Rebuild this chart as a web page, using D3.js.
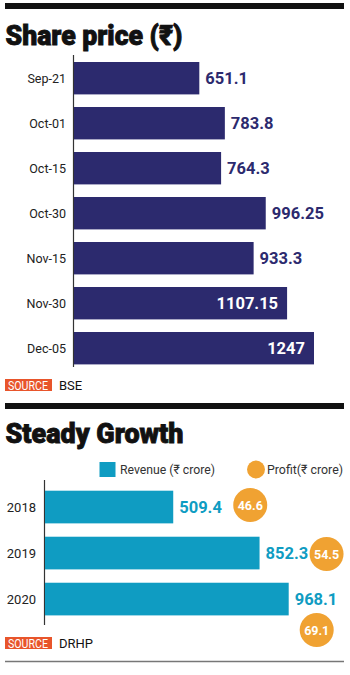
<!DOCTYPE html>
<html><head><meta charset="utf-8">
<script src="https://cdn.jsdelivr.net/npm/d3@7"></script>
<style>
html,body{margin:0;padding:0;background:#fff;}
svg{display:block;}
</style></head>
<body>
<svg id="c" width="350" height="675"></svg>
<script>
// ---- data ----
const priceDates = ["Sep-21","Oct-01","Oct-15","Oct-30","Nov-15","Nov-30","Dec-05"];
const priceValues = [651.1, 783.8, 764.3, 996.25, 933.3, 1107.15, 1247];
const priceLabels = ["651.1","783.8","764.3","996.25","933.3","1107.15","1247"];
const years = ["2018","2019","2020"];
const revenue = [509.4, 852.3, 968.1];
const revenueLabels = ["509.4","852.3","968.1"];
const profit = [46.6, 54.5, 69.1];
const profitLabels = ["46.6","54.5","69.1"];

// ---- layout (not data) ----
const profitOffsets = [{dx:77, dy:-2},{dx:67, dy:1},{dx:28, dy:31}];

const NAVY = "#2c2a6e", BLUE = "#0f9cc2", ORANGE = "#f0a232", SRC = "#e8552b";
const FONT = "Roboto, 'Open Sans', 'DejaVu Sans', sans-serif";
const svg = d3.select("#c");

function blackBar(y){ svg.append("rect").attr("x",5).attr("y",y).attr("width",339).attr("height",6).attr("fill","#111"); }
function title(txt, y, len){
  svg.append("text").attr("x",5.5).attr("y",y).text(txt)
    .attr("font-family",FONT).attr("font-weight",900).attr("font-size",28)
    .attr("fill","#111").attr("stroke","#111").attr("stroke-width",0.9)
    .attr("textLength",len).attr("lengthAdjust","spacingAndGlyphs");
}
function source(y, label){
  svg.append("rect").attr("x",5).attr("y",y).attr("width",47).attr("height",12).attr("fill",SRC);
  svg.append("text").attr("x",8).attr("y",y+10.5).text("SOURCE").attr("fill","#fff")
    .attr("font-family",FONT).attr("font-size",12.5).attr("textLength",40).attr("lengthAdjust","spacingAndGlyphs");
  svg.append("text").attr("x",59).attr("y",y+10.5).text(label).attr("fill","#111")
    .attr("font-family",FONT).attr("font-size",13);
}

// ===== Chart 1: Share price =====
blackBar(3);
title("Share price (\u20B9)", 45, 177);

const y1 = d3.scaleBand().domain(priceDates).range([62, 364.4]).paddingInner(0.28).paddingOuter(0);
const x1 = d3.scaleLinear().domain([0, 1247]).range([74, 314]);

svg.append("line").attr("x1",73.5).attr("x2",73.5).attr("y1",55).attr("y2",367)
  .attr("stroke","#333").attr("stroke-width",1.2);

const g1 = svg.append("g");
g1.selectAll("rect").data(priceValues).join("rect")
  .attr("x", x1(0)).attr("y", (d,i)=>y1(priceDates[i]))
  .attr("width", d=>x1(d)-x1(0)).attr("height", y1.bandwidth()).attr("fill", NAVY);

g1.selectAll("text.val").data(priceValues).join("text").attr("class","val")
  .attr("x", d=> d>1100 ? x1(d)-9 : x1(d)+6)
  .attr("y", (d,i)=>y1(priceDates[i])+y1.bandwidth()/2+6)
  .attr("text-anchor", d=> d>1100 ? "end" : "start")
  .attr("fill", d=> d>1100 ? "#fff" : NAVY)
  .attr("font-family",FONT).attr("font-weight",700).attr("font-size",16.5)
  .text((d,i)=>priceLabels[i]);

g1.selectAll("text.cat").data(priceDates).join("text").attr("class","cat")
  .attr("x", 66).attr("y", d=>y1(d)+y1.bandwidth()/2+5)
  .attr("text-anchor","end").attr("fill","#222")
  .attr("font-family",FONT).attr("font-size",12.5).text(d=>d);

source(379, "BSE");

// ===== Chart 2: Steady Growth =====
blackBar(403);
title("Steady Growth", 443, 178);

// legend
svg.append("rect").attr("x",99.5).attr("y",462).attr("width",16).attr("height",15).attr("fill",BLUE);
svg.append("text").attr("x",120).attr("y",474).text("Revenue (\u20B9 crore)").attr("fill","#333")
  .attr("font-family",FONT).attr("font-size",13).attr("textLength",95).attr("lengthAdjust","spacingAndGlyphs");
svg.append("circle").attr("cx",256).attr("cy",469.5).attr("r",9).attr("fill",ORANGE);
svg.append("text").attr("x",267).attr("y",474).text("Profit(\u20B9 crore)").attr("fill","#333")
  .attr("font-family",FONT).attr("font-size",13).attr("textLength",76).attr("lengthAdjust","spacingAndGlyphs");

const y2 = d3.scaleBand().domain(years).range([490.7, 615.4]).paddingInner(0.29).paddingOuter(0);
const x2 = d3.scaleLinear().domain([0, 968.1]).range([45, 288.7]);

svg.append("line").attr("x1",44.5).attr("x2",44.5).attr("y1",480).attr("y2",625)
  .attr("stroke","#333").attr("stroke-width",1.2);

const g2 = svg.append("g");
g2.selectAll("rect").data(revenue).join("rect")
  .attr("x", x2(0)).attr("y", (d,i)=>y2(years[i]))
  .attr("width", d=>x2(d)-x2(0)).attr("height", y2.bandwidth()).attr("fill", BLUE);

g2.selectAll("text.val").data(revenue).join("text").attr("class","val")
  .attr("x", d=>x2(d)+6).attr("y",(d,i)=>y2(years[i])+y2.bandwidth()/2+6)
  .attr("fill",BLUE).attr("font-family",FONT).attr("font-weight",700).attr("font-size",16.5)
  .text((d,i)=>revenueLabels[i]);

g2.selectAll("text.cat").data(years).join("text").attr("class","cat")
  .attr("x",36).attr("y",d=>y2(d)+y2.bandwidth()/2+5)
  .attr("text-anchor","end").attr("fill","#222")
  .attr("font-family",FONT).attr("font-size",13).text(d=>d);

const pg = g2.selectAll("g.profit").data(profit).join("g").attr("class","profit")
  .attr("transform",(d,i)=>`translate(${x2(revenue[i])+profitOffsets[i].dx},${y2(years[i])+y2.bandwidth()/2+profitOffsets[i].dy})`);
pg.append("circle").attr("r",17).attr("fill",ORANGE);
pg.append("text").attr("text-anchor","middle").attr("y",4.5).attr("fill","#fff")
  .attr("font-family",FONT).attr("font-weight",700).attr("font-size",12.5)
  .text((d,i)=>profitLabels[i]);

source(637, "DRHP");

svg.append("line").attr("x1",5).attr("x2",344).attr("y1",661.5).attr("y2",661.5)
  .attr("stroke","#777").attr("stroke-width",1.5);
</script>
</body></html>
